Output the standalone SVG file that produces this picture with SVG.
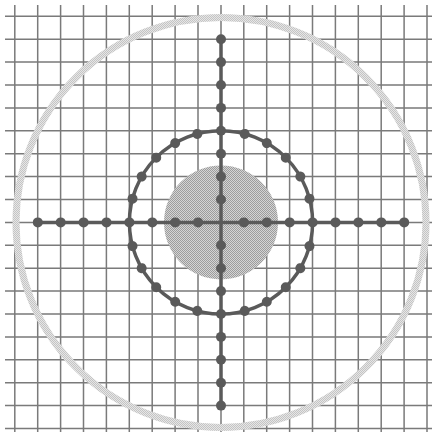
<svg xmlns="http://www.w3.org/2000/svg" xmlns:xlink="http://www.w3.org/1999/xlink" width="435" height="437" viewBox="0 0 435 437">
<style>
.grid{stroke:#7a7a7a;stroke-width:1.5;fill:none}
.outer{fill:none;stroke:url(#chkLight);stroke-width:7}
.disc{fill:url(#chkGray)}
.ring{fill:none;stroke:#5a5a5a;stroke-width:3.5}
.axis{stroke:#5a5a5a;stroke-width:3.5;fill:none}
.dot{fill:#5a5a5a}
</style>
<defs>
<pattern id="chkLight" width="2" height="2" patternUnits="userSpaceOnUse">
<rect width="2" height="2" fill="#e6e6e6"/>
<rect width="1" height="1" fill="#c4c4c4"/>
<rect x="1" y="1" width="1" height="1" fill="#c4c4c4"/>
</pattern>
<pattern id="chkGray" width="2" height="2" patternUnits="userSpaceOnUse">
<rect width="2" height="2" fill="#d4d4d4"/>
<rect width="1" height="1" fill="#9c9c9c"/>
<rect x="1" y="1" width="1" height="1" fill="#9c9c9c"/>
</pattern>
<circle id="rd" cx="221" cy="130.8" r="5" class="dot"/>
</defs>
<rect width="435" height="437" fill="#ffffff"/>
<g id="grid" class="grid">
<path d="M14.8 5V432M37.7 5V432M60.6 5V432M83.5 5V432M106.4 5V432M129.3 5V432M152.2 5V432M175.1 5V432M198 5V432M221 5V432M243.8 5V432M266.7 5V432M289.6 5V432M312.5 5V432M335.4 5V432M358.3 5V432M381.2 5V432M404.1 5V432M427 5V432"/>
<path d="M5 16.3H432M5 39.2H432M5 62.1H432M5 85H432M5 107.9H432M5 130.8H432M5 153.7H432M5 176.6H432M5 199.5H432M5 222.4H432M5 245.3H432M5 268.2H432M5 291.1H432M5 314H432M5 336.9H432M5 359.8H432M5 382.7H432M5 405.6H432M5 428.5H432"/>
</g>
<g id="outer-circle"><circle class="outer" cx="221" cy="222.4" r="205"/></g>
<g id="inner-disc"><circle class="disc" cx="221" cy="222.4" r="57"/></g>
<g id="connectors">
<circle class="ring" cx="221" cy="222.4" r="91.6"/>
<path class="axis" d="M37.8 222.4H404.2M221 39.2V405.6"/>
</g>
<g id="ring-dots">
<use xlink:href="#rd"/>
<use xlink:href="#rd" transform="rotate(15 221 222.4)"/>
<use xlink:href="#rd" transform="rotate(30 221 222.4)"/>
<use xlink:href="#rd" transform="rotate(45 221 222.4)"/>
<use xlink:href="#rd" transform="rotate(60 221 222.4)"/>
<use xlink:href="#rd" transform="rotate(75 221 222.4)"/>
<use xlink:href="#rd" transform="rotate(90 221 222.4)"/>
<use xlink:href="#rd" transform="rotate(105 221 222.4)"/>
<use xlink:href="#rd" transform="rotate(120 221 222.4)"/>
<use xlink:href="#rd" transform="rotate(135 221 222.4)"/>
<use xlink:href="#rd" transform="rotate(150 221 222.4)"/>
<use xlink:href="#rd" transform="rotate(165 221 222.4)"/>
<use xlink:href="#rd" transform="rotate(180 221 222.4)"/>
<use xlink:href="#rd" transform="rotate(195 221 222.4)"/>
<use xlink:href="#rd" transform="rotate(210 221 222.4)"/>
<use xlink:href="#rd" transform="rotate(225 221 222.4)"/>
<use xlink:href="#rd" transform="rotate(240 221 222.4)"/>
<use xlink:href="#rd" transform="rotate(255 221 222.4)"/>
<use xlink:href="#rd" transform="rotate(270 221 222.4)"/>
<use xlink:href="#rd" transform="rotate(285 221 222.4)"/>
<use xlink:href="#rd" transform="rotate(300 221 222.4)"/>
<use xlink:href="#rd" transform="rotate(315 221 222.4)"/>
<use xlink:href="#rd" transform="rotate(330 221 222.4)"/>
<use xlink:href="#rd" transform="rotate(345 221 222.4)"/>
</g>
<g id="axis-dots" class="dot">
<circle cx="37.8" cy="222.4" r="5"/><circle cx="60.7" cy="222.4" r="5"/><circle cx="83.6" cy="222.4" r="5"/><circle cx="106.5" cy="222.4" r="5"/>
<circle cx="152.3" cy="222.4" r="5"/><circle cx="175.2" cy="222.4" r="5"/><circle cx="198.1" cy="222.4" r="5"/>
<circle cx="243.9" cy="222.4" r="5"/><circle cx="266.8" cy="222.4" r="5"/><circle cx="289.7" cy="222.4" r="5"/>
<circle cx="335.5" cy="222.4" r="5"/><circle cx="358.4" cy="222.4" r="5"/><circle cx="381.3" cy="222.4" r="5"/><circle cx="404.2" cy="222.4" r="5"/>
<circle cx="221" cy="39.2" r="5"/><circle cx="221" cy="62.1" r="5"/><circle cx="221" cy="85" r="5"/><circle cx="221" cy="107.9" r="5"/>
<circle cx="221" cy="153.7" r="5"/><circle cx="221" cy="176.6" r="5"/><circle cx="221" cy="199.5" r="5"/>
<circle cx="221" cy="245.3" r="5"/><circle cx="221" cy="268.2" r="5"/><circle cx="221" cy="291.1" r="5"/>
<circle cx="221" cy="336.9" r="5"/><circle cx="221" cy="359.8" r="5"/><circle cx="221" cy="382.7" r="5"/><circle cx="221" cy="405.6" r="5"/>
</g>
</svg>
